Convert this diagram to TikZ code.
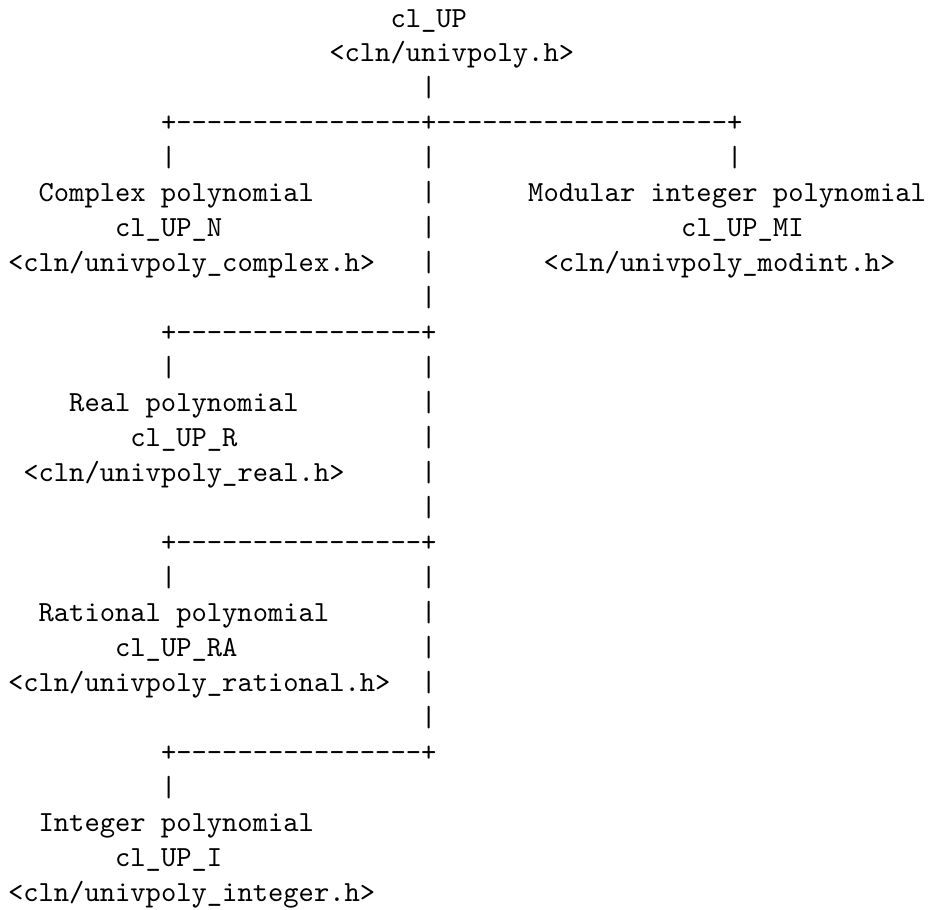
\documentclass[tikz,border=0pt]{standalone}
\usepackage{fontspec}
\begin{document}
\begin{tikzpicture}[x=5.25pt, y=-12pt,
  ascii/.style={anchor=base west, inner sep=0pt, outer sep=0pt, font=\ttfamily\fontsize{10pt}{12pt}\selectfont}]
\useasboundingbox (-2.745pt,9.265pt) rectangle (316.37pt,-302.65pt);
% row 1-3
\node[ascii] (top1) at (25,0) {cl\_UP};
\node[ascii] (top2) at (21,1) {<cln/univpoly.h>};
\node[ascii] (v3) at (27,2) {|};
% row 4
\node[ascii] (h4) at (10,3) {+----------------+-------------------+};
% row 5
\node[ascii] (v5a) at (10,4) {|};
\node[ascii] (v5b) at (27,4) {|};
\node[ascii] (v5c) at (47,4) {|};
% rows 6-8
\node[ascii] (cx1) at (2,5) {Complex polynomial};
\node[ascii] (v6) at (27,5) {|};
\node[ascii] (mi1) at (34,5) {Modular integer polynomial};
\node[ascii] (cx2) at (7,6) {cl\_UP\_N};
\node[ascii] (v7) at (27,6) {|};
\node[ascii] (mi2) at (44,6) {cl\_UP\_MI};
\node[ascii] (cx3) at (0,7) {<cln/univpoly\_complex.h>};
\node[ascii] (v8) at (27,7) {|};
\node[ascii] (mi3) at (35,7) {<cln/univpoly\_modint.h>};
\node[ascii] (v9) at (27,8) {|};
% row 10-11
\node[ascii] (h10) at (10,9) {+----------------+};
\node[ascii] (v11a) at (10,10) {|};
\node[ascii] (v11b) at (27,10) {|};
% rows 12-15
\node[ascii] (re1) at (4,11) {Real polynomial};
\node[ascii] (v12) at (27,11) {|};
\node[ascii] (re2) at (8,12) {cl\_UP\_R};
\node[ascii] (v13) at (27,12) {|};
\node[ascii] (re3) at (1,13) {<cln/univpoly\_real.h>};
\node[ascii] (v14) at (27,13) {|};
\node[ascii] (v15) at (27,14) {|};
% rows 16-17
\node[ascii] (h16) at (10,15) {+----------------+};
\node[ascii] (v17a) at (10,16) {|};
\node[ascii] (v17b) at (27,16) {|};
% rows 18-21
\node[ascii] (ra1) at (2,17) {Rational polynomial};
\node[ascii] (v18) at (27,17) {|};
\node[ascii] (ra2) at (7,18) {cl\_UP\_RA};
\node[ascii] (v19) at (27,18) {|};
\node[ascii] (ra3) at (0,19) {<cln/univpoly\_rational.h>};
\node[ascii] (v20) at (27,19) {|};
\node[ascii] (v21) at (27,20) {|};
% rows 22-23
\node[ascii] (h22) at (10,21) {+----------------+};
\node[ascii] (v23) at (10,22) {|};
% rows 24-26
\node[ascii] (in1) at (2,23) {Integer polynomial};
\node[ascii] (in2) at (7,24) {cl\_UP\_I};
\node[ascii] (in3) at (0,25) {<cln/univpoly\_integer.h>};
\end{tikzpicture}
\end{document}
